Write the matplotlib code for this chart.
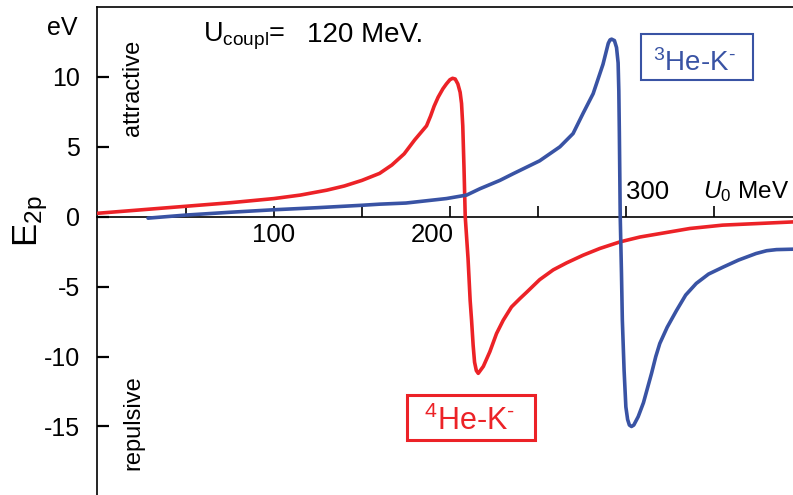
import numpy as np
import matplotlib
matplotlib.use("Agg")
import matplotlib.pyplot as plt
from matplotlib.patches import Rectangle

plt.rcParams["font.family"] = ["Liberation Sans", "DejaVu Sans"]
plt.rcParams["mathtext.fontset"] = "custom"
plt.rcParams["mathtext.rm"] = "Liberation Sans"
plt.rcParams["mathtext.it"] = "Liberation Sans:italic"
plt.rcParams["axes.unicode_minus"] = False

RED = "#ec2227"
BLUE = "#3953a4"

# 4He-K- 2p level shift (eV) vs U0 (MeV)
he4_u = [0, 25, 50, 75, 100, 115, 130, 140, 150, 160, 167, 174, 180, 186.7, 189, 191,
         193.3, 196, 198, 200, 201.5, 203, 204.5, 205.8, 206.6, 207.3, 208.0, 208.7,
         210.3, 211.5, 212.3, 213.2, 214.0, 215.0, 216.1, 219, 222.7, 226.5, 230.3,
         235, 239.8, 243.6, 251, 258.7, 266.3, 275.7, 285.2, 296.6, 308, 336.4, 355,
         374.2, 395]
he4_e = [0.25, 0.5, 0.75, 1.0, 1.3, 1.55, 1.9, 2.2, 2.6, 3.1, 3.7, 4.5, 5.5, 6.5, 7.2,
         7.9, 8.55, 9.15, 9.5, 9.8, 9.9, 9.85, 9.5, 8.9, 8.1, 6.5, 3.5, 0.0,
         -3.0, -6.0, -7.4, -9.2, -10.4, -11.0, -11.2, -10.7, -9.65, -8.35, -7.4,
         -6.45, -5.85, -5.4, -4.5, -3.8, -3.3, -2.75, -2.27, -1.8, -1.45, -0.84, -0.6,
         -0.49, -0.37]

# 3He-K-
he3_u = [28.4, 50, 75, 100, 125, 150, 160.2, 175, 198, 209.5, 217, 228.4, 236, 251,
         262.5, 270, 275.7, 281.4, 287, 290, 291, 291.9, 293.5, 294.7, 295.6, 296.0,
         296.3, 296.8, 297.5, 298, 299, 300, 301, 302, 303.2, 304.5, 307, 310, 314.6,
         317, 319.3, 323.5, 328.8, 334, 340, 347, 355.3, 364, 374, 380, 385.6, 395]
he3_e = [-0.1, 0.12, 0.32, 0.5, 0.65, 0.82, 0.9, 0.98, 1.3, 1.55, 2.0, 2.6, 3.08, 4.0,
         5.0, 5.95, 7.4, 8.8, 10.9, 12.4, 12.65, 12.7, 12.6, 12.1, 11.0, 9.0,
         6.0, 0.0, -4.0, -7.4, -11.0, -13.6, -14.5, -14.9, -15.0, -14.9, -14.3, -13.3,
         -11.2, -10.0, -9.06, -7.9, -6.7, -5.6, -4.77, -4.1, -3.6, -3.1, -2.63, -2.43,
         -2.35, -2.32]

yticks = [10, 5, 0, -5, -10, -15]
ytick_labels = ["10", "5", "0", "-5", "-10", "-15"]
xticks = [50, 100, 150, 200, 250, 300, 350]

W, H = 793, 495
fig = plt.figure(figsize=(W / 100, H / 100), dpi=100)
ax = fig.add_axes([97 / W, 0, (W - 97) / W, (H - 7) / H])


def px(x, y):
    return x / W, 1 - y / H


ax.plot(he4_u, he4_e, color=RED, lw=2.6, solid_joinstyle="round",
        solid_capstyle="round", zorder=3)
ax.plot(he3_u, he3_e, color=BLUE, lw=2.6, solid_joinstyle="round",
        solid_capstyle="round", zorder=3)

ax.set_xlim(-0.6, 395)
ax.set_ylim(-19.9, 15.0)
ax.spines["right"].set_visible(False)
ax.spines["bottom"].set_position(("data", 0))
for s in ("left", "bottom", "top"):
    ax.spines[s].set_linewidth(1.2)

ax.set_xticks(xticks)
ax.tick_params(axis="x", direction="in", length=8, width=1.2, labelbottom=False, top=False)
ax.set_yticks(yticks)
ax.set_yticklabels(ytick_labels)
ax.tick_params(axis="y", direction="in", length=8.5, width=1.6, pad=12, labelsize=18)

# x tick labels placed by hand: 100/200 below the axis, 300 above
ax.text(100, -1.3, "100", ha="center", va="center", fontsize=18.5)
ax.text(190, -1.3, "200", ha="center", va="center", fontsize=18.5)
ax.text(300, 1.8, "300", ha="left", va="center", fontsize=18.5)
ax.text(344, 1.8, r"$\mathit{U}_0$ MeV", ha="left", va="center", fontsize=17.5)

fig.text(*px(62, 28), "eV", ha="center", va="center", fontsize=18)
fig.text(*px(31, 221), r"E$_{\mathrm{2p}}$", ha="center", va="center", fontsize=25,
         rotation=90)
fig.text(*px(133, 88), "attractive", ha="center", va="center", fontsize=17, rotation=90)
fig.text(*px(133, 423), "repulsive", ha="center", va="center", fontsize=17, rotation=90)
fig.text(*px(203, 42), r"U$_{\mathrm{coupl}}$=", ha="left", va="baseline", fontsize=19.5)
fig.text(*px(307, 42), "120 MeV.", ha="left", va="baseline", fontsize=20)

# labelled boxes for the two systems
fig.patches.append(Rectangle(px(407, 440), 128 / W, 45 / H, transform=fig.transFigure,
                             fill=False, ec=RED, lw=2.2))
fig.text(*px(470, 430), r"$^{4}$He-K$^{\text{-}}$", ha="center", va="baseline",
         fontsize=22, color=RED)
fig.patches.append(Rectangle(px(641, 80), 112 / W, 46 / H, transform=fig.transFigure,
                             fill=False, ec=BLUE, lw=1.5))
fig.text(*px(694, 71), r"$^{3}$He-K$^{\text{-}}$", ha="center", va="baseline",
         fontsize=20, color=BLUE)

fig.savefig("out.png", dpi=100)
